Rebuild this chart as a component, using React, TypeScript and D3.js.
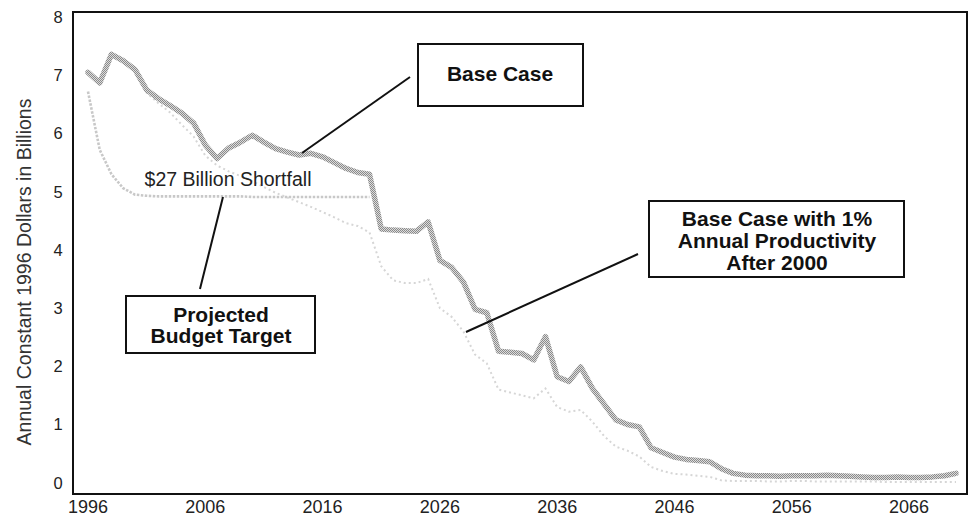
import React from "react";
import * as d3 from "d3";

// Annual values, billions of constant 1996 dollars
const startYear = 1996;

const baseCase = [
  7.05, 6.87, 7.36, 7.25, 7.1, 6.75, 6.6, 6.48, 6.35, 6.18,
  5.8, 5.57, 5.75, 5.85, 5.97, 5.85, 5.74, 5.68, 5.63, 5.66,
  5.6, 5.5, 5.4, 5.33, 5.3, 4.36, 4.34, 4.33, 4.32, 4.48,
  3.82, 3.7, 3.45, 2.98, 2.92, 2.26, 2.24, 2.22, 2.11, 2.51,
  1.82, 1.74, 1.99, 1.62, 1.35, 1.08, 1.0, 0.96, 0.6, 0.52,
  0.44, 0.4, 0.38, 0.36, 0.24, 0.16, 0.13, 0.12, 0.12, 0.11,
  0.12, 0.12, 0.12, 0.13, 0.12, 0.11, 0.1, 0.09, 0.09, 0.1,
  0.09, 0.09, 0.1, 0.12, 0.16,
];

// Base case with 1% annual productivity, from 2000 onward
const productivityStart = 2000;
const productivityCase = [
  7.1, 6.7, 6.52, 6.36, 6.15, 5.95, 5.62, 5.45, 5.35, 5.27,
  5.18, 5.08, 4.98, 4.9, 4.82, 4.74, 4.65, 4.56, 4.46, 4.41,
  4.3, 3.72, 3.48, 3.43, 3.43, 3.5, 3.0, 2.85, 2.6, 2.2,
  2.05, 1.6, 1.55, 1.5, 1.45, 1.62, 1.3, 1.22, 1.25, 1.05,
  0.8, 0.62, 0.55, 0.45, 0.27, 0.2, 0.15, 0.14, 0.12, 0.1,
  0.04, 0.03, 0.03, 0.03, 0.02, 0.02, 0.03, 0.03, 0.02, 0.02,
  0.02, 0.02, 0.02, 0.02, 0.01, 0.01, 0.01, 0.01, 0.01, 0.01,
  0.01,
];

// Projected budget target, 1996-2020
const budgetTarget = [
  6.72, 5.72, 5.3, 5.06, 4.95, 4.93, 4.92, 4.92, 4.92, 4.92,
  4.92, 4.92, 4.92, 4.92, 4.91, 4.91, 4.91, 4.91, 4.91, 4.91,
  4.91, 4.91, 4.91, 4.91, 4.91,
];

const xTicks = [1996, 2006, 2016, 2026, 2036, 2046, 2056, 2066];
const yTicks = [0, 1, 2, 3, 4, 5, 6, 7, 8];

const yAxisTitle = "Annual Constant 1996 Dollars in Billions";
const shortfallLabel = "$27 Billion Shortfall";
const baseCaseLabel = ["Base Case"];
const budgetLabel = ["Projected", "Budget Target"];
const productivityLabel = ["Base Case with 1%", "Annual Productivity", "After 2000"];

type Pt = { year: number; value: number };
const toPoints = (values: number[], first: number): Pt[] =>
  values.map((value, i) => ({ year: first + i, value }));

const FONT = "'Liberation Sans', Arial, Helvetica, sans-serif";

export default function App() {
  const width = 973;
  const height = 517;

  const x = d3.scaleLinear().domain([1996, 2070]).range([88, 956]);
  const y = d3.scaleLinear().domain([0, 8]).range([482.7, 17.1]);

  const line = d3
    .line<Pt>()
    .x((d) => x(d.year))
    .y((d) => y(d.value))
    .curve(d3.curveLinear);

  const basePath = line(toPoints(baseCase, startYear)) || "";
  const prodPath = line(toPoints(productivityCase, productivityStart)) || "";
  const targetPath = line(toPoints(budgetTarget, startYear)) || "";

  return (
    <svg
      width={width}
      height={height}
      viewBox={`0 0 ${width} ${height}`}
      style={{ position: "absolute", left: 0, top: 0, background: "#fff" }}
      fontFamily={FONT}
    >
      <defs>
        {/* halftone screen for the heavy base-case line */}
        <pattern id="halftone" width="2" height="2" patternUnits="userSpaceOnUse">
          <rect width="2" height="2" fill="#dcdcdc" />
          <rect x="0" y="0" width="1" height="1" fill="#8a8a8a" />
          <rect x="1" y="1" width="1" height="1" fill="#8a8a8a" />
        </pattern>
      </defs>

      <rect width={width} height={height} fill="#fff" />

      {/* plot frame */}
      <rect x={73} y={12} width={894} height={482} fill="none" stroke="#111" strokeWidth={2} />

      {/* series */}
      <path d={targetPath} fill="none" stroke="#c8c8c8" strokeWidth={2.6} strokeDasharray="2.5 1.5" />
      <path d={prodPath} fill="none" stroke="#d6d6d6" strokeWidth={2} strokeDasharray="2 3" />
      <path
        d={basePath}
        fill="none"
        stroke="url(#halftone)"
        strokeWidth={5.5}
        strokeLinejoin="round"
        strokeLinecap="round"
      />

      {/* y axis labels */}
      {yTicks.map((t) => (
        <text
          key={`y${t}`}
          x={58}
          y={y(t)}
          dy="0.36em"
          textAnchor="middle"
          fontSize={16.5}
          fill="#222"
        >
          {t}
        </text>
      ))}

      {/* x axis labels */}
      {xTicks.map((t) => (
        <text key={`x${t}`} x={x(t)} y={512.5} textAnchor="middle" fontSize={18} fill="#222">
          {t}
        </text>
      ))}

      {/* y axis title */}
      <text
        transform={`translate(31, 272) rotate(-90)`}
        textAnchor="middle"
        fontSize={19.5}
        fill="#333"
      >
        {yAxisTitle}
      </text>

      {/* shortfall note */}
      <text x={228} y={186} textAnchor="middle" fontSize={19.5} fill="#222">
        {shortfallLabel}
      </text>

      {/* callout: base case */}
      <line x1={410} y1={77} x2={302} y2={153} stroke="#111" strokeWidth={2} />
      <rect x={418} y={44} width={165} height={62} fill="#fff" stroke="#111" strokeWidth={2} />
      {baseCaseLabel.map((s, i) => (
        <text key={s} x={500} y={81 + i * 22} textAnchor="middle" fontSize={21} fontWeight="bold" fill="#111">
          {s}
        </text>
      ))}

      {/* callout: projected budget target */}
      <line x1={223} y1={197} x2={200} y2={289} stroke="#111" strokeWidth={2} />
      <rect x={126} y={296} width={189} height={57} fill="#fff" stroke="#111" strokeWidth={2} />
      {budgetLabel.map((s, i) => (
        <text key={s} x={221} y={321.5 + i * 21.7} textAnchor="middle" fontSize={21} fontWeight="bold" fill="#111">
          {s}
        </text>
      ))}

      {/* callout: productivity case */}
      <line x1={638} y1={254} x2={466} y2={332} stroke="#111" strokeWidth={2} />
      <rect x={649} y={201} width={255} height={76} fill="#fff" stroke="#111" strokeWidth={2} />
      {productivityLabel.map((s, i) => (
        <text key={s} x={777} y={226 + i * 22} textAnchor="middle" fontSize={21} fontWeight="bold" fill="#111">
          {s}
        </text>
      ))}
    </svg>
  );
}
